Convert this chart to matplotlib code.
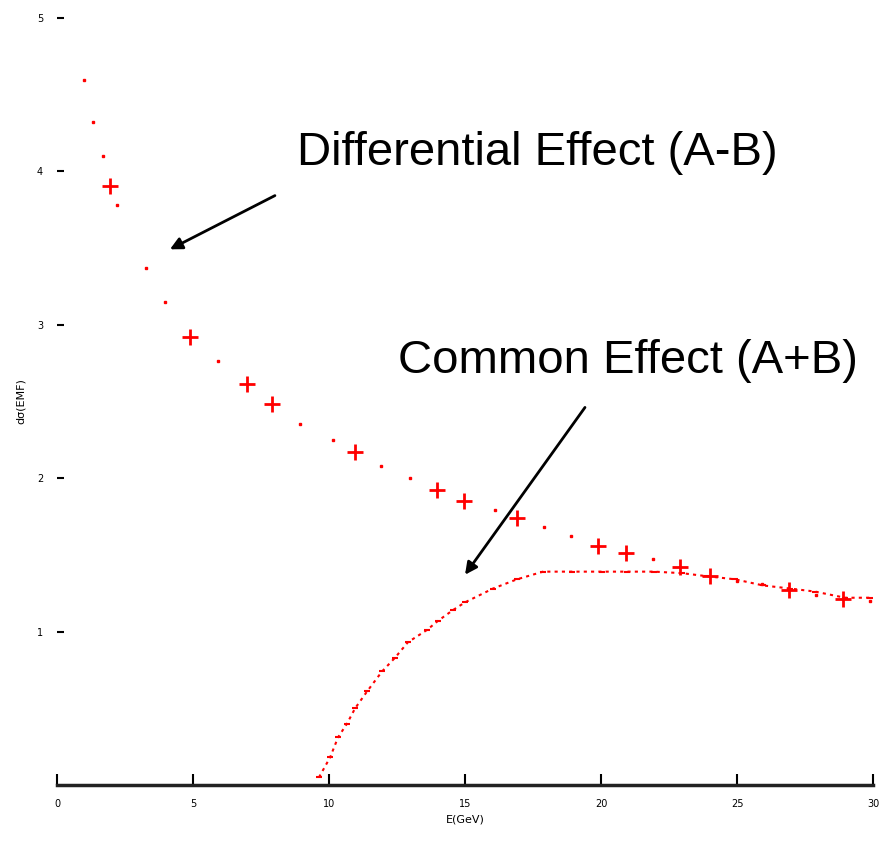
import matplotlib.pyplot as plt

# Differential effect (A-B): points drawn as crosses
diff_x_cross = [1.95, 4.89, 6.99, 7.90, 10.96, 13.97, 14.95, 16.9, 19.9, 20.9, 22.9, 24.0, 26.9, 28.9]
diff_y_cross = [3.90, 2.92, 2.61, 2.48, 2.17, 1.92, 1.85, 1.74, 1.56, 1.51, 1.42, 1.36, 1.27, 1.21]

# Differential effect (A-B): points drawn as small dots
diff_x_dot = [0.99, 1.32, 1.69, 2.2, 3.27, 3.97, 5.92, 8.93, 10.15, 11.9, 12.98, 16.1, 17.9,
              18.9, 21.9, 25.0, 25.9, 27.9, 29.9]
diff_y_dot = [4.59, 4.32, 4.10, 3.78, 3.37, 3.15, 2.76, 2.35, 2.25, 2.08, 2.00, 1.79, 1.68,
              1.62, 1.47, 1.33, 1.31, 1.24, 1.20]

# Common effect (A+B)
comm_x = [9.63, 10.04, 10.33, 10.66, 10.96, 11.40, 11.95, 12.43, 12.90, 13.60, 14.01, 14.56,
          15.0, 16.03, 16.91, 17.87, 18.93, 20.04, 20.96, 21.95, 22.98, 23.90, 24.93, 25.96,
          26.95, 27.87, 28.97, 29.89]
comm_y = [0.05, 0.18, 0.31, 0.40, 0.50, 0.61, 0.74, 0.83, 0.93, 1.01, 1.07, 1.14,
          1.19, 1.28, 1.34, 1.39, 1.39, 1.39, 1.39, 1.39, 1.38, 1.36, 1.34, 1.30,
          1.28, 1.26, 1.22, 1.22]

x_ticks = [0, 5, 10, 15, 20, 25, 30]
y_ticks = [1, 2, 3, 4, 5]

fig = plt.figure(figsize=(8.83, 8.48), dpi=100)
ax = fig.add_axes([0.0646, 0.0743, 0.9241, 0.905])

ax.plot(comm_x, comm_y, color="red", linestyle=(0, (1.5, 2)), linewidth=1.5,
        marker="_", markersize=5, markeredgewidth=1.5)
ax.plot(diff_x_dot, diff_y_dot, linestyle="none", marker="s", markersize=2,
        color="red")
ax.plot(diff_x_cross, diff_y_cross, linestyle="none", marker="+", markersize=11,
        markeredgewidth=2, color="red")

ax.set_xlim(0, 30)
ax.set_ylim(0, 5)
ax.set_xticks(x_ticks)
ax.set_yticks(y_ticks)
for s in ["top", "right", "left"]:
    ax.spines[s].set_visible(False)
ax.spines["bottom"].set_linewidth(2.5)
ax.spines["bottom"].set_color("#222222")
ax.tick_params(axis="x", direction="in", length=8, width=1.5, labelsize=7, pad=10)
ax.tick_params(axis="y", direction="in", length=5, width=1.5, labelsize=7, pad=10)
ax.set_xlabel("E(GeV)", fontsize=8, labelpad=4)
ax.set_ylabel("dσ(EMF)", fontsize=8, labelpad=8)

arrow = dict(arrowstyle="-|>", color="black", lw=2, mutation_scale=18,
             shrinkA=0, shrinkB=0)
ax.text(17.65, 4.12, "Differential Effect (A-B)", ha="center", va="center",
        fontsize=34, family="Liberation Sans")
ax.annotate("", xy=(4.15, 3.49), xytext=(8.01, 3.84), arrowprops=arrow)
ax.text(21.0, 2.76, "Common Effect (A+B)", ha="center", va="center",
        fontsize=34, family="Liberation Sans")
ax.annotate("", xy=(15.0, 1.37), xytext=(19.41, 2.46), arrowprops=arrow)

fig.savefig("out.png", dpi=100)
